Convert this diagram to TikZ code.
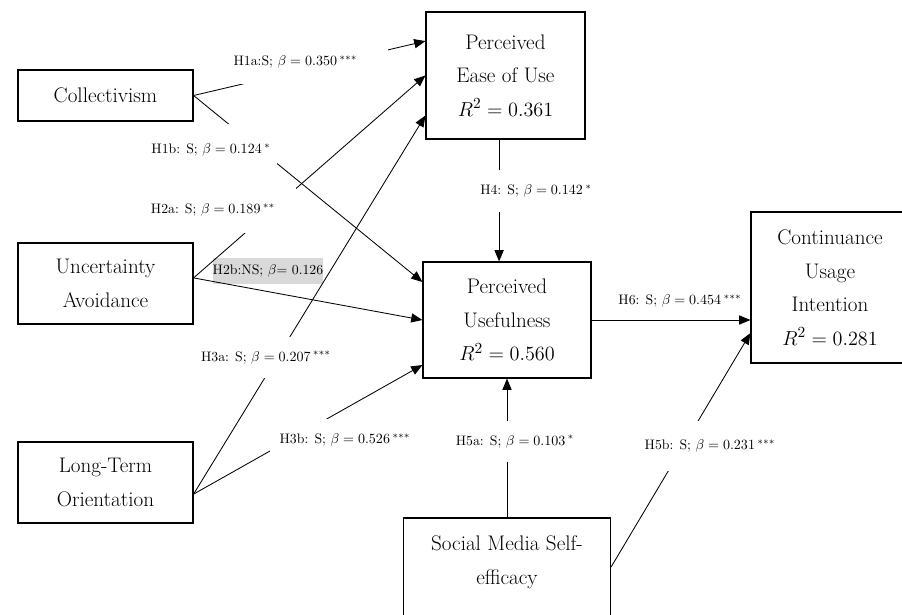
\documentclass[tikz,border=0pt]{standalone}
\usepackage{amsmath}
\usepackage{tikz}
\usetikzlibrary{arrows.meta,calc}
\definecolor{nsgray}{RGB}{217,217,217}

\begin{document}
\begin{tikzpicture}[x=0.025cm, y=-0.025cm, >={Triangle[length=8pt,width=6.5pt]},
    construct/.style={draw, line width=0.8pt, inner sep=0pt, align=center,
        font=\fontsize{15}{23.8}\selectfont},
    link/.style={->, line width=0.6pt},
    hyp/.style={fill=white, inner sep=0pt, font=\fontsize{9.8}{11}\selectfont}]
    \useasboundingbox (0,0) rectangle (902,614);
    \clip (0,0) rectangle (902,614);

    % Constructs
    \node[construct, minimum width=4.375cm, minimum height=1.275cm] (coll) at (105.5,95.5) {Collectivism};
    \node[construct, minimum width=4.375cm, minimum height=2.025cm] (ua) at (105.5,283.5) {Uncertainty\\Avoidance};
    \node[construct, minimum width=4.375cm, minimum height=2.025cm] (lto) at (105.5,482.5) {Long-Term\\Orientation};
    \node[construct, minimum width=3.975cm, minimum height=3.175cm] (peou) at (505.5,75.5) {Perceived\\Ease of Use\\$R^2 = 0.361$};
    \node[construct, minimum width=4.2cm, minimum height=2.9cm] (pu) at (507,320) {Perceived\\Usefulness\\$R^2 = 0.560$};
    \node[construct, minimum width=3.95cm, minimum height=3.775cm] (cui) at (830,287.5) {Continuance\\Usage\\Intention\\$R^2 = 0.281$};
    \node[construct, minimum width=5.175cm, minimum height=2.95cm] (smse) at (507,577) {Social Media Self-\\efficacy\\\phantom{e}};

    % Not supported path
    \node[hyp, fill=nsgray, minimum width=2.7cm, minimum height=0.65cm] (h2b) at (268,271) {H2b:NS; $\beta$= 0.126};

    % Paths
    \draw[link] (coll.east) -- ([yshift=0.86cm]peou.west);
    \draw[link] (coll.east) -- ([yshift=0.95cm]pu.west);
    \draw[link] ([yshift=0.14cm]ua.east) -- (peou.west);
    \draw[link] ([yshift=0.14cm]ua.east) -- (pu.west);
    \draw[link] ([yshift=-0.29cm]lto.east) -- ([yshift=-1cm]peou.west);
    \draw[link] ([yshift=-0.29cm]lto.east) -- ([yshift=-1.125cm]pu.west);
    \draw[link] ([xshift=-0.16cm]peou.south) -- ([xshift=-0.16cm]peou.south |- pu.north);
    \draw[link] (smse.north) -- (smse.north |- pu.south);
    \draw[link] (pu.east) -- (pu.east -| cui.west);
    \draw[link] ([yshift=0.25cm]smse.east) -- ([yshift=-1.14cm]cui.west);

    % Path coefficients
    \node[hyp, minimum width=4.625cm, minimum height=1.1cm] (h1a) at (295.5,62) {H1a:S; $\beta = 0.350$\,$^{***}$};
    \node[hyp, minimum width=3.3cm, minimum height=1.3cm] (h1b) at (211,150) {H1b: S; $\beta = 0.124$\,$^{*}$};
    \node[hyp, minimum width=4.15cm, minimum height=1.15cm] (h2a) at (213,210) {H2a: S; $\beta = 0.189$\,$^{**}$};
    \node[hyp, minimum width=3.5cm, minimum height=1.025cm] (h3a) at (266,357.5) {H3a: S; $\beta = 0.207$\,$^{***}$};
    \node[hyp, minimum width=3.75cm, minimum height=1.05cm] (h3b) at (345,440) {H3b: S; $\beta = 0.526$\,$^{***}$};
    \node[hyp, minimum width=2.8cm, minimum height=1.05cm] (h4) at (536,191) {H4: S; $\beta = 0.142$\,$^{*}$};
    \node[hyp, minimum width=2.85cm, minimum height=1.025cm] (h5a) at (515,441.5) {H5a: S; $\beta = 0.103$\,$^{*}$};
    \node[hyp, minimum width=3.25cm, minimum height=1.25cm] (h5b) at (710,446) {H5b: S; $\beta = 0.231$\,$^{***}$};
    \node[hyp, fill=none] (h6) at (680,301) {H6: S; $\beta = 0.454$\,$^{***}$};
\end{tikzpicture}
\end{document}
